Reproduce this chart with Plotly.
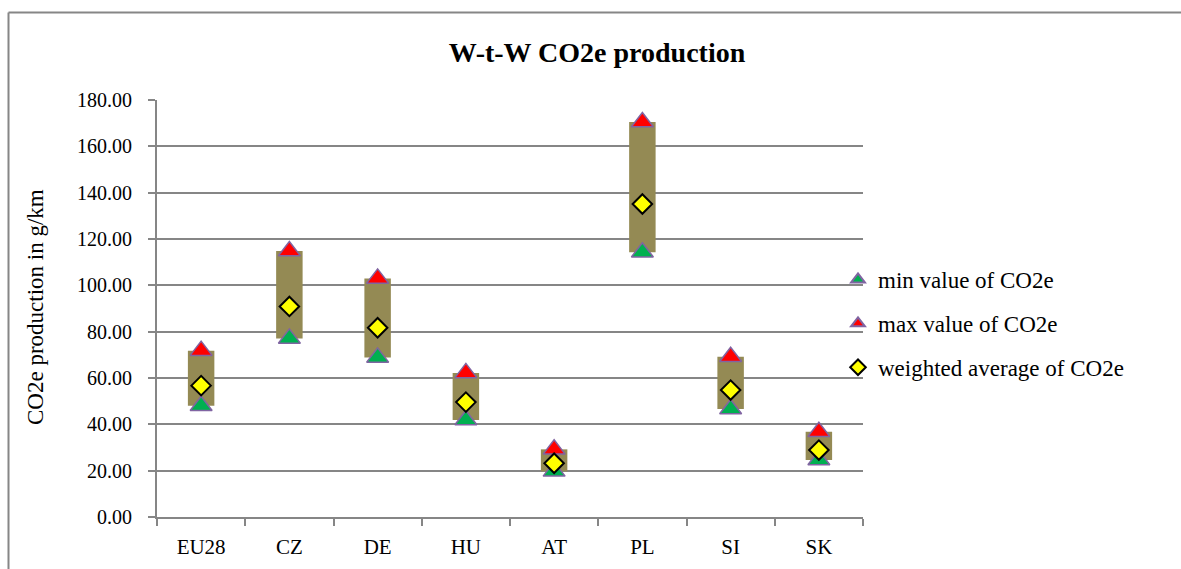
import plotly.graph_objects as go

# Well-to-wheel CO2e production per country (g/km)
countries = ["EU28", "CZ", "DE", "HU", "AT", "PL", "SI", "SK"]
min_co2e = [48.0, 77.1, 68.9, 41.9, 19.7, 114.3, 46.6, 24.6]
max_co2e = [71.8, 114.8, 103.0, 62.2, 29.2, 170.5, 69.2, 36.8]
avg_co2e = [56.7, 90.9, 81.7, 49.6, 23.2, 135.1, 54.8, 28.9]

FONT = "Liberation Serif"
GRID = "#868686"
OUTLINE = "#8064A2"

fig = go.Figure()

# Range bar from min to max value
fig.add_trace(go.Bar(
    x=countries,
    base=min_co2e,
    y=[hi - lo for hi, lo in zip(max_co2e, min_co2e)],
    width=0.3,
    marker=dict(color="#948A54", line=dict(width=0)),
    showlegend=False,
    hoverinfo="skip",
))

fig.add_trace(go.Scatter(
    x=countries, y=min_co2e, mode="markers", name="min value of CO2e",
    legendgroup="a",
    marker=dict(symbol="triangle-up", size=19, color="#00B050",
                line=dict(color=OUTLINE, width=1.5)),
))
fig.add_trace(go.Scatter(
    x=countries, y=max_co2e, mode="markers", name="max value of CO2e",
    legendgroup="b",
    marker=dict(symbol="triangle-up", size=19, color="#FF0000",
                line=dict(color=OUTLINE, width=1.5)),
))
fig.add_trace(go.Scatter(
    x=countries, y=avg_co2e, mode="markers", name="weighted average of CO2e",
    legendgroup="c",
    marker=dict(symbol="diamond", size=15, color="#FFFF00",
                line=dict(color="#000000", width=2)),
))

# Pixel -> paper coordinate helpers for the 706x417 plot area
px_x = lambda p: (p - 157) / 706
px_y = lambda p: (517 - p) / 417

fig.update_layout(
    width=1181, height=569,
    margin=dict(l=157, r=318, t=100, b=52, autoexpand=False),
    paper_bgcolor="white", plot_bgcolor="white",
    font=dict(family=FONT, size=20, color="#000000"),
    title=dict(text="<b>W-t-W CO2e production</b>", x=597 / 1181, xref="container",
               xanchor="center", y=1 - 52 / 569, yref="container", yanchor="middle",
               font=dict(family=FONT, size=28, color="#000000")),
    barmode="overlay",
    showlegend=True,
    legend=dict(x=px_x(838), xanchor="left", y=px_y(258), yanchor="top",
                bgcolor="rgba(0,0,0,0)", tracegroupgap=11, itemwidth=30,
                itemsizing="constant",
                font=dict(family=FONT, size=23, color="#000000")),
    xaxis=dict(
        type="category", tickson="boundaries", ticks="outside", ticklen=7,
        tickcolor=GRID, tickwidth=2, showline=True, linecolor=GRID, linewidth=2,
        showgrid=False, tickfont=dict(family=FONT, size=21),
        range=[-0.5, 7.5], ticklabelstandoff=10, automargin=False,
    ),
    yaxis=dict(
        range=[0, 180], dtick=20, tickformat=".2f", ticks="outside", ticklen=7,
        tickcolor=GRID, tickwidth=2, showline=True, linecolor=GRID, linewidth=2,
        showgrid=True, gridcolor=GRID, gridwidth=2, zeroline=False,
        tickfont=dict(family=FONT, size=20), ticklabelstandoff=12, automargin=False,
    ),
    annotations=[dict(
        text="CO2e production in g/km", textangle=-90, x=px_x(35),
        y=px_y(307), xref="paper", yref="paper", showarrow=False,
        xanchor="center", yanchor="middle", font=dict(family=FONT, size=23),
    )],
    shapes=[
        # chart frame: top and left edges
        dict(type="line", xref="paper", yref="paper",
             x0=px_x(8.5), x1=px_x(1220), y0=px_y(12.5), y1=px_y(12.5),
             line=dict(color=GRID, width=2), layer="below"),
        dict(type="line", xref="paper", yref="paper",
             x0=px_x(8.5), x1=px_x(8.5), y0=px_y(12.5), y1=px_y(600),
             line=dict(color=GRID, width=2), layer="below"),
    ],
)

fig.write_html(
    "out.html",
    post_script=(
        "document.documentElement.style.overflow='hidden';"
        "document.body.style.margin='0';document.body.style.overflow='hidden';"
    ),
)
